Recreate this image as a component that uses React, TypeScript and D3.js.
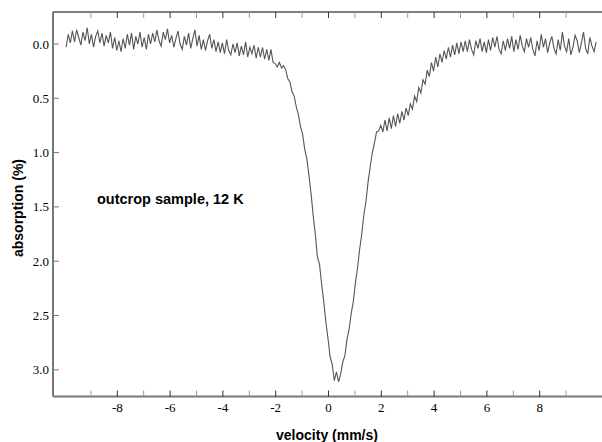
import React from "react";
import * as d3 from "d3";

// Mössbauer spectrum: channels evenly spaced in velocity
const velocityStart = -9.94; // mm/s, first channel
const velocityStep = 0.08; // mm/s per channel

const absorption: number[] = [
  0.03, -0.09, -0.01, -0.12, -0.02, -0.13, -0.06, 0.01, -0.11, -0.03,
  -0.15, 0.0, -0.09, 0.03, -0.07, -0.12, -0.01, -0.1, 0.02, -0.08,
  -0.01, -0.11, 0.04, -0.06, 0.06, -0.03, 0.07, -0.05, 0.04, -0.09,
  0.01, -0.1, 0.05, -0.07, 0.0, -0.11, 0.03, -0.06, 0.05, -0.09,
  0.0, -0.1, -0.02, -0.13, -0.03, 0.02, -0.11, -0.04, -0.14, -0.01,
  -0.08, 0.03, -0.05, -0.12, 0.0, 0.05, -0.07, 0.01, -0.1, 0.04,
  -0.05, -0.13, 0.02, -0.08, 0.05, -0.04, 0.06, -0.03, -0.09, 0.04,
  -0.04, 0.07, -0.02, 0.08, -0.01, 0.09, -0.04, 0.06, 0.1, 0.0,
  0.08, -0.01, 0.11, 0.02, 0.1, -0.02, 0.12, 0.03, 0.09, 0.01,
  0.13, 0.03, 0.12, 0.03, 0.14, 0.05, 0.15, 0.05, 0.17, 0.18,
  0.21, 0.17, 0.22, 0.2, 0.24, 0.32, 0.35, 0.44, 0.48, 0.58,
  0.65, 0.76, 0.83, 0.97, 1.06, 1.21, 1.38, 1.58, 1.75, 1.96,
  2.03, 2.21, 2.37, 2.56, 2.71, 2.88, 2.95, 3.1, 3.02, 3.11,
  3.04, 2.93, 2.87, 2.72, 2.63, 2.48, 2.37, 2.2, 2.06, 1.89,
  1.75, 1.57, 1.45, 1.27, 1.13, 1.0, 0.91, 0.81, 0.8, 0.75,
  0.81, 0.7, 0.8, 0.68, 0.78, 0.66, 0.76, 0.64, 0.73, 0.62,
  0.7, 0.59, 0.66, 0.55, 0.6, 0.48, 0.53, 0.4, 0.45, 0.33,
  0.37, 0.24, 0.3, 0.17, 0.25, 0.12, 0.21, 0.09, 0.17, 0.06,
  0.14, 0.03, 0.12, 0.01, 0.1, -0.01, 0.09, -0.02, 0.07, -0.03,
  0.07, -0.04, 0.05, 0.1, -0.03, 0.04, -0.05, 0.07, -0.02, 0.08,
  -0.04, 0.06, -0.06, 0.03, -0.07, 0.05, 0.09, -0.03, 0.06, -0.05,
  0.04, -0.07, 0.07, -0.04, 0.05, -0.08, 0.02, 0.07, -0.05, 0.03,
  -0.06, 0.05, 0.11, -0.03, 0.06, -0.09, 0.03, -0.05, 0.08, -0.01,
  -0.07, 0.04, 0.09, -0.04, 0.06, -0.11, 0.02, 0.07, -0.05, 0.1,
  0.03, -0.08, -0.03, 0.08, -0.01, -0.11, 0.04, 0.09, -0.06, 0.02,
  0.07, -0.02,
];

const xMajorTicks = [-8, -6, -4, -2, 0, 2, 4, 6, 8];
const xMinorTicks = [-9, -7, -5, -3, -1, 1, 3, 5, 7, 9];
const yTicks = [0, 0.5, 1, 1.5, 2, 2.5, 3];

const sampleLabel = "outcrop sample, 12 K";
const xTitle = "velocity (mm/s)";
const yTitle = "absorption (%)";

export default function App() {
  const W = 602;
  const H = 442;
  const left = 53;
  const right = 602;
  const top = 12;
  const bottom = 396.5;

  const x = d3.scaleLinear().domain([-10, 10]).range([64.5, 592.5]);
  const y = d3.scaleLinear().domain([0, 3]).range([44, 369.8]);

  const pts: [number, number][] = absorption.map((a, i) => [
    velocityStart + i * velocityStep,
    a,
  ]);
  const line = d3
    .line<[number, number]>()
    .x((d) => x(d[0]))
    .y((d) => y(d[1]));

  const serif = "'Liberation Serif', 'Times New Roman', serif";
  const sans = "'Liberation Sans', Arial, Helvetica, sans-serif";

  return (
    <svg
      width={W}
      height={H}
      style={{ position: "absolute", left: 0, top: 0, background: "#fff" }}
    >
      {/* data */}
      <path
        d={line(pts) || ""}
        fill="none"
        stroke="#555"
        strokeWidth={1.1}
        strokeLinejoin="miter"
      />

      {/* frame */}
      <line x1={left} x2={right} y1={top} y2={top} stroke="#000" strokeWidth={1.2} />
      <line x1={left} x2={left} y1={top} y2={bottom} stroke="#777" strokeWidth={2} />
      <line x1={left} x2={right} y1={bottom} y2={bottom} stroke="#777" strokeWidth={2} />

      {/* x ticks */}
      {xMajorTicks.map((t) => (
        <g key={"xM" + t}>
          <line x1={x(t)} x2={x(t)} y1={bottom} y2={bottom - 6} stroke="#333" strokeWidth={1} />
          <line x1={x(t)} x2={x(t)} y1={top} y2={top + 6} stroke="#333" strokeWidth={1} />
          <text
            x={x(t)}
            y={412}
            textAnchor="middle"
            fontFamily={serif}
            fontSize={13}
            fill="#000"
          >
            {t}
          </text>
        </g>
      ))}
      {xMinorTicks.map((t) => (
        <g key={"xm" + t}>
          <line x1={x(t)} x2={x(t)} y1={bottom} y2={bottom - 6} stroke="#999" strokeWidth={1} />
          <line x1={x(t)} x2={x(t)} y1={top} y2={top + 6} stroke="#999" strokeWidth={1} />
        </g>
      ))}

      {/* y ticks */}
      {yTicks.map((t) => (
        <g key={"y" + t}>
          <line x1={left} x2={left + 6} y1={y(t)} y2={y(t)} stroke="#777" strokeWidth={1} />
          <text
            x={49}
            y={y(t) + 4.5}
            textAnchor="end"
            fontFamily={serif}
            fontSize={13}
            fill="#000"
          >
            {d3.format(".1f")(t)}
          </text>
        </g>
      ))}

      {/* titles */}
      <text
        x={327}
        y={440}
        textAnchor="middle"
        fontFamily={sans}
        fontWeight="bold"
        fontSize={14}
        fill="#000"
      >
        {xTitle}
      </text>
      <text
        transform={`translate(23, 208) rotate(-90)`}
        textAnchor="middle"
        fontFamily={sans}
        fontWeight="bold"
        fontSize={14}
        fill="#000"
      >
        {yTitle}
      </text>
      <text
        x={97}
        y={204}
        fontFamily={sans}
        fontWeight="bold"
        fontSize={14.5}
        fill="#000"
      >
        {sampleLabel}
      </text>
    </svg>
  );
}
